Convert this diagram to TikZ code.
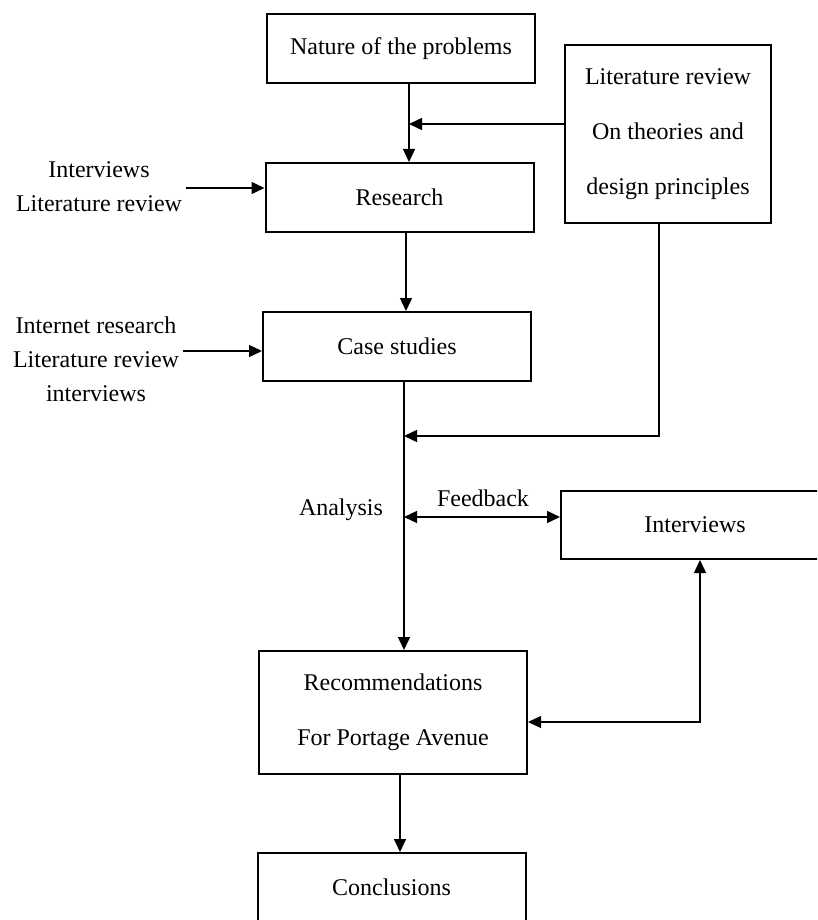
\documentclass[tikz,border=0pt]{standalone}
\usepackage{fontspec}
\setmainfont{Liberation Serif}
\usetikzlibrary{arrows.meta}
\begin{document}
\begin{tikzpicture}[x=1pt,y=-1pt,
  >={Triangle[length=13pt,width=12pt]},
  box/.style={draw,line width=2pt,inner sep=0pt,align=center,minimum width=268pt,minimum height=69pt,font=\fontsize{24}{55}\selectfont},
  lbl/.style={inner sep=0pt,align=center,font=\fontsize{24}{34}\selectfont},
  ln/.style={line width=1.4pt}]
\useasboundingbox (0,0) rectangle (817,920);
\clip (0,0) rectangle (817,920);
% boxes
\node[box] (nat) at (401,48.5) {Nature of the problems};
\node[box,minimum width=206pt,minimum height=178pt] (lit) at (668,134) {Literature review\\On theories and\\design principles};
\node[box] (res) at (399.5,197.5) {Research};
\node[box] (cas) at (397,346.5) {Case studies};
\node[box,minimum height=68pt] (int) at (695,525) {Interviews};
\node[box,minimum height=123pt] (rec) at (393,712.5) {Recommendations\\For Portage Avenue};
\node[box] (con) at (391.5,887.5) {Conclusions};
% labels
\node[lbl] (in1) at (99,186.5) {Interviews\\Literature review};
\node[lbl] (in2) at (96,359) {Internet research\\Literature review\\interviews};
\node[lbl] (ana) at (341,510) {Analysis};
\node[lbl] (fb) at (483,498) {Feedback};
% helper coordinates
\coordinate (m1) at (409,0);
\coordinate (m2) at (406,0);
\coordinate (m3) at (404,0);
\coordinate (m4) at (400,0);
\coordinate (k1) at (659,0);
\coordinate (j1) at (409,124);
\coordinate (j2) at (404,436);
\coordinate (j3) at (404,517);
\coordinate (k2) at (700,722);
\coordinate (a1) at (186,188);
\coordinate (a2) at (183,351);
% connectors
\draw[->,ln] (nat.south -| m1) -- (res.north -| m1);
\draw[->,ln] (lit.west |- j1) -- (j1);
\draw[->,ln] (a1) -- (a1 -| res.west);
\draw[->,ln] (res.south -| m2) -- (cas.north -| m2);
\draw[->,ln] (a2) -- (a2 -| cas.west);
\draw[->,ln] (cas.south -| m3) -- (rec.north -| m3);
\draw[->,ln] (lit.south -| k1) |- (j2);
\draw[<->,ln] (j3) -- (j3 -| int.west);
\draw[<->,ln] (int.south -| k2) -- (k2) -- (k2 -| rec.east);
\draw[->,ln] (rec.south -| m4) -- (con.north -| m4);
\end{tikzpicture}
\end{document}
